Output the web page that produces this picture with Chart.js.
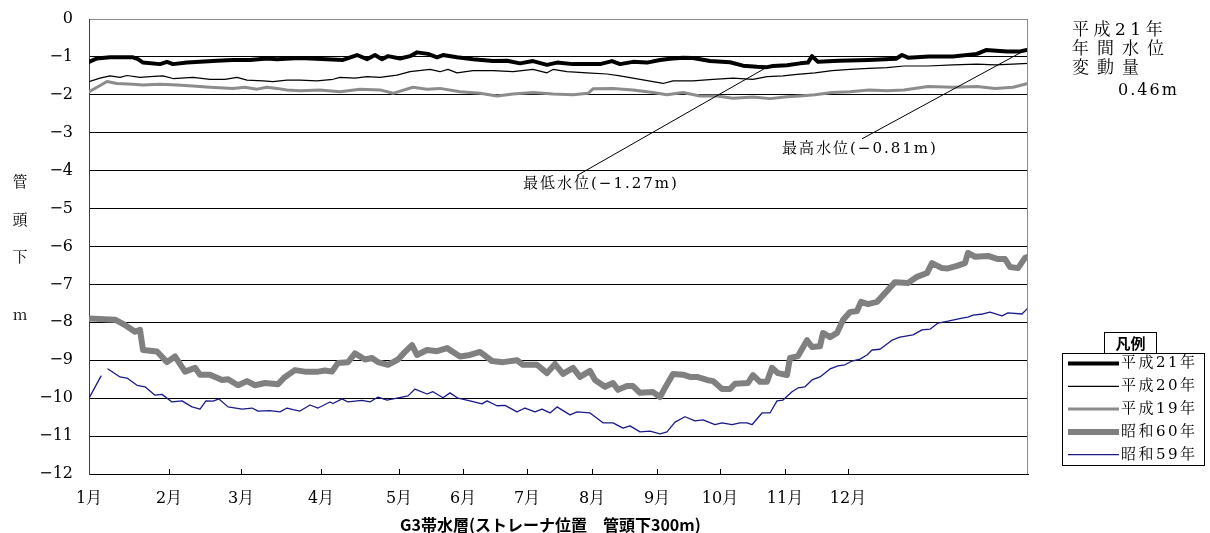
<!DOCTYPE html>
<html><head><meta charset="utf-8">
<script src="https://cdn.jsdelivr.net/npm/chart.js@4/dist/chart.umd.min.js"></script>
<style>html,body{margin:0;padding:0;background:#fff;overflow:hidden}</style>
</head><body>
<canvas id="c" width="1210" height="533"></canvas>
<script>
// ---- data (x = record number along the year, y = water level below pipe head, m) ----
const monthLabels = ['1月','2月','3月','4月','5月','6月','7月','8月','9月','10月','11月','12月'];
const monthTicks  = [0, 80, 152, 232, 310, 374, 438, 503, 568, 631, 696, 759];
const lastRecord  = 939;
const yTicks = [0,-1,-2,-3,-4,-5,-6,-7,-8,-9,-10,-11,-12];
const seriesNames = ['平成21年','平成20年','平成19年','昭和60年','昭和59年'];

const h21 = [[0,-1.13],[8,-1.04],[21,-1.01],[44,-1.01],[49,-1.06],[54,-1.15],[71,-1.19],[78,-1.13],[84,-1.19],[98,-1.15],[111,-1.13],[128,-1.10],[144,-1.08],[161,-1.08],[178,-1.04],[188,-1.06],[201,-1.04],[211,-1.03],[238,-1.06],[254,-1.08],[268,-0.95],[278,-1.06],[286,-0.95],[293,-1.06],[299,-0.98],[311,-1.04],[321,-0.98],[328,-0.88],[339,-0.92],[348,-1.01],[354,-0.95],[368,-1.01],[384,-1.06],[404,-1.11],[418,-1.10],[431,-1.17],[444,-1.11],[458,-1.21],[468,-1.15],[484,-1.19],[501,-1.19],[511,-1.19],[523,-1.11],[531,-1.19],[544,-1.13],[558,-1.15],[571,-1.08],[581,-1.05],[594,-1.02],[604,-1.03],[621,-1.11],[641,-1.14],[654,-1.23],[668,-1.26],[678,-1.27],[684,-1.24],[698,-1.22],[711,-1.17],[719,-1.15],[723,-0.98],[729,-1.13],[750,-1.10],[780,-1.08],[807,-1.05],[813,-0.95],[819,-1.02],[840,-0.99],[864,-0.99],[888,-0.92],[897,-0.82],[918,-0.86],[930,-0.86],[939,-0.81]];

const h20 = [[0,-1.65],[11,-1.56],[21,-1.50],[31,-1.54],[38,-1.49],[51,-1.54],[61,-1.52],[74,-1.50],[84,-1.57],[104,-1.54],[121,-1.59],[136,-1.59],[148,-1.54],[158,-1.61],[174,-1.63],[184,-1.65],[198,-1.61],[211,-1.61],[228,-1.63],[244,-1.59],[251,-1.54],[266,-1.56],[278,-1.52],[291,-1.54],[308,-1.48],[321,-1.39],[341,-1.33],[351,-1.39],[359,-1.33],[368,-1.42],[384,-1.36],[404,-1.36],[424,-1.39],[444,-1.33],[458,-1.42],[464,-1.33],[478,-1.39],[498,-1.42],[518,-1.45],[531,-1.50],[544,-1.56],[564,-1.65],[574,-1.70],[584,-1.63],[604,-1.63],[624,-1.59],[644,-1.56],[664,-1.59],[678,-1.52],[694,-1.50],[708,-1.46],[726,-1.42],[743,-1.36],[761,-1.33],[780,-1.30],[798,-1.28],[815,-1.24],[839,-1.24],[864,-1.21],[888,-1.19],[906,-1.21],[924,-1.19],[939,-1.17]];

const h19 = [[0,-1.92],[8,-1.80],[18,-1.65],[28,-1.70],[44,-1.72],[54,-1.74],[71,-1.72],[88,-1.74],[104,-1.77],[121,-1.80],[144,-1.83],[156,-1.80],[168,-1.85],[178,-1.80],[188,-1.83],[198,-1.87],[211,-1.89],[231,-1.87],[251,-1.92],[271,-1.85],[291,-1.87],[304,-1.96],[324,-1.80],[338,-1.85],[351,-1.83],[371,-1.92],[391,-1.96],[408,-2.03],[424,-1.98],[444,-1.94],[464,-1.98],[484,-2.00],[499,-1.96],[504,-1.84],[524,-1.83],[544,-1.87],[564,-1.94],[578,-2.00],[594,-1.94],[611,-2.03],[628,-2.03],[644,-2.09],[664,-2.06],[681,-2.10],[698,-2.05],[711,-2.03],[726,-2.00],[743,-1.94],[761,-1.92],[780,-1.87],[798,-1.89],[815,-1.87],[839,-1.78],[864,-1.80],[888,-1.78],[906,-1.83],[924,-1.80],[939,-1.70]];

const s60 = [[0,-7.90],[26,-7.93],[36,-8.07],[46,-8.25],[51,-8.20],[54,-8.73],[68,-8.77],[78,-9.05],[86,-8.90],[96,-9.30],[106,-9.20],[111,-9.38],[121,-9.38],[133,-9.52],[139,-9.50],[149,-9.66],[158,-9.55],[166,-9.66],[176,-9.60],[189,-9.63],[196,-9.44],[206,-9.26],[216,-9.30],[229,-9.30],[236,-9.27],[243,-9.30],[249,-9.07],[259,-9.05],[266,-8.82],[276,-8.98],[283,-8.94],[289,-9.05],[299,-9.12],[309,-8.98],[316,-8.78],[323,-8.60],[328,-8.86],[338,-8.73],[348,-8.76],[358,-8.68],[371,-8.90],[381,-8.86],[391,-8.78],[403,-9.02],[414,-9.05],[428,-9.00],[434,-9.12],[448,-9.12],[458,-9.34],[466,-9.10],[474,-9.36],[484,-9.20],[491,-9.44],[501,-9.28],[506,-9.52],[516,-9.70],[524,-9.60],[529,-9.78],[538,-9.68],[544,-9.68],[551,-9.86],[564,-9.84],[571,-9.97],[576,-9.73],[584,-9.36],[594,-9.38],[601,-9.44],[608,-9.44],[618,-9.52],[624,-9.55],[633,-9.76],[641,-9.76],[646,-9.62],[659,-9.60],[664,-9.39],[671,-9.57],[678,-9.57],[683,-9.20],[689,-9.34],[698,-9.39],[701,-8.94],[709,-8.89],[718,-8.47],[723,-8.65],[731,-8.63],[734,-8.28],[741,-8.39],[748,-8.28],[754,-7.94],[761,-7.73],[768,-7.70],[772,-7.46],[779,-7.52],[788,-7.46],[796,-7.23],[806,-6.94],[819,-6.96],[828,-6.80],[838,-6.70],[843,-6.44],[853,-6.57],[859,-6.58],[868,-6.51],[876,-6.44],[879,-6.17],[886,-6.27],[899,-6.25],[909,-6.33],[916,-6.33],[921,-6.54],[929,-6.57],[936,-6.30],[939,-6.27]];

const s59 = [[0,-10.00],[12,-9.42],[15,null],[19,-9.23],[31,-9.44],[38,-9.47],[48,-9.66],[56,-9.70],[66,-9.92],[73,-9.90],[83,-10.10],[93,-10.07],[103,-10.23],[111,-10.29],[117,-10.07],[124,-10.08],[130,-10.02],[139,-10.23],[153,-10.29],[163,-10.26],[169,-10.34],[181,-10.33],[191,-10.36],[198,-10.26],[204,-10.30],[211,-10.34],[221,-10.18],[229,-10.26],[241,-10.10],[244,-10.14],[253,-10.02],[259,-10.10],[273,-10.06],[281,-10.10],[289,-9.97],[298,-10.05],[308,-10.00],[319,-9.94],[326,-9.76],[338,-9.89],[344,-9.83],[354,-9.99],[361,-9.86],[369,-10.00],[381,-10.07],[393,-10.15],[398,-10.07],[408,-10.20],[416,-10.19],[428,-10.36],[436,-10.26],[446,-10.36],[453,-10.29],[461,-10.39],[468,-10.23],[481,-10.44],[488,-10.36],[501,-10.39],[506,-10.49],[514,-10.65],[524,-10.65],[534,-10.79],[541,-10.73],[551,-10.89],[561,-10.87],[571,-10.94],[578,-10.89],[586,-10.63],[596,-10.49],[606,-10.60],[614,-10.57],[626,-10.70],[633,-10.65],[643,-10.70],[651,-10.65],[658,-10.65],[663,-10.70],[673,-10.39],[681,-10.39],[688,-10.07],[694,-10.05],[703,-9.83],[709,-9.73],[716,-9.70],[723,-9.52],[731,-9.44],[741,-9.23],[749,-9.15],[756,-9.12],[763,-9.02],[771,-8.97],[778,-8.86],[783,-8.73],[791,-8.71],[803,-8.47],[811,-8.39],[824,-8.33],[833,-8.20],[841,-8.18],[849,-8.02],[859,-7.97],[873,-7.89],[879,-7.86],[884,-7.81],[894,-7.78],[901,-7.73],[913,-7.83],[919,-7.75],[933,-7.78],[939,-7.62]];

const annualNote = ['平成21年','年間水位','変動量','0.46m'];
const extremes = [
  {text:'最低水位(−1.27m)', point:[678,-1.27], anchor:[488,-4.13], label:[434,-4.36]},
  {text:'最高水位(−0.81m)', point:[937,-0.81], anchor:[773,-3.16], label:[693,-3.42]}
];
const yTitle = ['管','頭','下','','m'];
const xTitle = 'G3帯水層(ストレーナ位置　管頭下300m)';

// ---- styles ----
const SERIF = "'DejaVu Serif', 'Noto Serif CJK JP', serif";
const MINCHO = "'Noto Serif CJK JP', serif";
const SANS = "'Noto Sans CJK JP', sans-serif";
const styles = [
  {color:'#000000', width:4},
  {color:'#000000', width:1.2},
  {color:'#8c8c8c', width:3},
  {color:'#808080', width:6},
  {color:'#1a1a8a', width:1.3}
];
const seriesData = [h21, h20, h19, s60, s59];

function drawSpaced(ctx, text, x, y, gap) {
  let cx = x;
  for (const ch of text) {
    ctx.fillText(ch, cx, y);
    cx += ctx.measureText(ch).width + gap;
  }
  return cx;
}
function noScalePadding(s) {
  s.paddingTop = 0; s.paddingBottom = 0; s.paddingLeft = 0; s.paddingRight = 0;
}

const deco = {
  id: 'deco',
  afterDraw(chart) {
    const {ctx, chartArea: a, scales: {x, y}} = chart;
    ctx.save();
    // right frame border
    ctx.strokeStyle = '#8c8c8c'; ctx.lineWidth = 1;
    ctx.beginPath(); ctx.moveTo(a.right - 0.5, a.top); ctx.lineTo(a.right - 0.5, a.bottom); ctx.stroke();
    // inward month tick marks
    ctx.strokeStyle = '#000';
    monthTicks.slice(1).forEach(v => {
      const px = Math.round(x.getPixelForValue(v)) + 0.5;
      ctx.beginPath(); ctx.moveTo(px, a.bottom); ctx.lineTo(px, a.bottom - 5); ctx.stroke();
    });
    // extreme annotations
    ctx.fillStyle = '#000';
    ctx.font = '15px ' + SERIF;
    ctx.textBaseline = 'middle'; ctx.textAlign = 'left';
    extremes.forEach(e => {
      ctx.beginPath();
      ctx.moveTo(x.getPixelForValue(e.anchor[0]), y.getPixelForValue(e.anchor[1]));
      ctx.lineTo(x.getPixelForValue(e.point[0]), y.getPixelForValue(e.point[1]));
      ctx.stroke();
      drawSpaced(ctx, e.text, x.getPixelForValue(e.label[0]), y.getPixelForValue(e.label[1]), 2);
    });
    // y title (vertical)
    ctx.textAlign = 'center';
    ctx.font = '15px ' + MINCHO;
    const yPos = [181, 219, 256, 285, 314];
    yTitle.forEach((t, i) => { if (t) ctx.fillText(t, 20, yPos[i]); });
    // x title
    ctx.textAlign = 'left';
    ctx.font = 'bold 16px ' + SANS;
    ctx.fillText(xTitle, 400, 525);
    // annual note
    ctx.font = '17px ' + SERIF;
    drawSpaced(ctx, annualNote[0], 1072, 31, 4.5);
    drawSpaced(ctx, annualNote[1], 1072, 50, 8);
    drawSpaced(ctx, annualNote[2], 1072, 69, 8);
    ctx.font = '16px ' + SERIF;
    drawSpaced(ctx, annualNote[3], 1118, 91, 2);
    // legend
    ctx.lineWidth = 1; ctx.strokeStyle = '#000';
    ctx.strokeRect(1062.5, 353.5, 142, 112);
    ctx.fillStyle = '#fff';
    ctx.fillRect(1104.5, 332.5, 52, 21);
    ctx.strokeRect(1104.5, 332.5, 52, 21);
    ctx.fillStyle = '#000';
    ctx.font = 'bold 15px ' + SANS;
    ctx.textAlign = 'center';
    ctx.fillText('凡例', 1130.5, 343.5);
    ctx.textAlign = 'left';
    ctx.font = '15px ' + SERIF;
    chart.data.datasets.forEach((ds, i) => {
      const ly = 363.5 + i * 22.8;
      ctx.strokeStyle = ds.borderColor; ctx.lineWidth = ds.borderWidth;
      ctx.beginPath(); ctx.moveTo(1068, ly); ctx.lineTo(1119, ly); ctx.stroke();
      ctx.fillStyle = '#000';
      drawSpaced(ctx, ds.label, 1121, ly, 2.5);
    });
    ctx.restore();
  }
};

new Chart(document.getElementById('c'), {
  type: 'line',
  data: {
    datasets: seriesNames.map((name, i) => ({
      label: name,
      data: seriesData[i].map(([xv, yv]) => ({x: xv, y: yv})),
      borderColor: styles[i].color,
      backgroundColor: styles[i].color,
      borderWidth: styles[i].width,
      pointRadius: 0,
      tension: 0,
      spanGaps: false,
      borderJoinStyle: 'round',
      borderCapStyle: 'round'
    }))
  },
  options: {
    responsive: false,
    animation: false,
    devicePixelRatio: 1,
    layout: {padding: {left: 0, top: 19, right: 182, bottom: 0}},
    plugins: {legend: {display: false}, tooltip: {enabled: false}},
    scales: {
      x: {
        type: 'linear', min: 0, max: lastRecord,
        afterBuildTicks: s => { s.ticks = monthTicks.map(v => ({value: v})); },
        afterFit: s => { s.height = 59; noScalePadding(s); },
        ticks: {
          autoSkip: false, maxRotation: 0, padding: 7, color: '#000',
          font: {family: SERIF, size: 16},
          callback: v => { const k = monthTicks.indexOf(v); return k >= 0 ? monthLabels[k] : ''; }
        },
        grid: {display: false},
        border: {display: true, color: '#000', width: 1}
      },
      y: {
        type: 'linear', min: -12, max: 0,
        afterBuildTicks: s => { s.ticks = yTicks.map(v => ({value: v})); },
        afterFit: s => { s.width = 89; noScalePadding(s); },
        ticks: {
          padding: 16, color: '#000',
          font: {family: SERIF, size: 16},
          callback: v => v < 0 ? '−' + (-v) : String(v)
        },
        grid: {drawTicks: false, color: c => (c.tick && c.tick.value === 0) ? '#8c8c8c' : '#000', lineWidth: 1},
        border: {display: true, color: '#404040', width: 1}
      }
    }
  },
  plugins: [deco]
});
</script>
</body></html>
